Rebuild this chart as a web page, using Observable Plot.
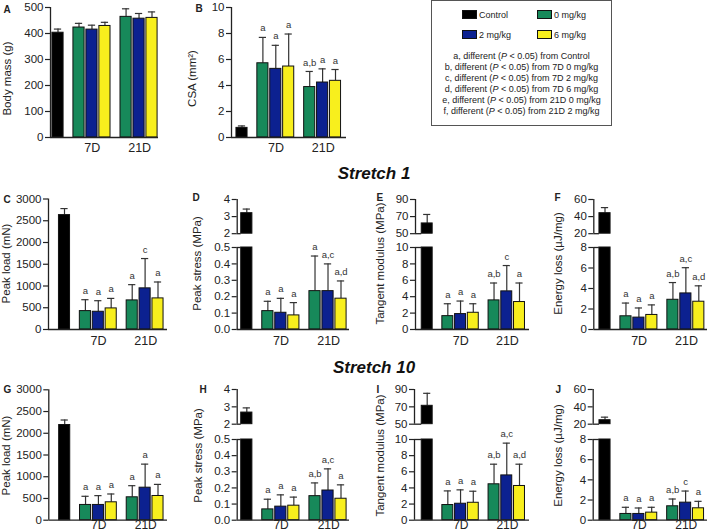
<!DOCTYPE html>
<html><head><meta charset="utf-8">
<script src="https://cdn.jsdelivr.net/npm/d3@7"></script>
<script src="https://cdn.jsdelivr.net/npm/@observablehq/plot@0.6"></script>
<style>
body{margin:0;background:#fff;font-family:"Liberation Sans",Arial,sans-serif;}
#root{position:relative;width:709px;height:532px;overflow:hidden;background:#fff;}
.title{position:absolute;font-weight:bold;font-style:italic;font-size:17px;color:#111;transform:translate(-50%,-50%);white-space:nowrap;}
#legend{position:absolute;left:431px;top:0px;width:179px;height:124px;border:1.5px solid #555;font-size:9px;color:#222;}
#legend .sw{position:absolute;width:13px;height:7px;border:1px solid #111;}
#legend .lt{position:absolute;white-space:nowrap;line-height:10px;}
#legend .notes{position:absolute;left:0;width:179px;top:50px;text-align:center;line-height:11px;}
</style></head><body><div id="root"></div>
<script>
// ---------- categories ----------
const groupLabels = ["Control", "0 mg/kg", "2 mg/kg", "6 mg/kg"];
const groupColors = ["#000000", "#17895a", "#0c2190", "#f8ef1d"];
const timeLabels = ["7D", "21D"];
const comparisonTargets = ["Control", "7D 0 mg/kg", "7D 2 mg/kg", "7D 6 mg/kg", "21D 0 mg/kg", "21D 2 mg/kg"];
const comparisonLetters = ["a", "b", "c", "d", "e", "f"];
const sectionTitles = ["Stretch 1", "Stretch 10"];
// bar order: Control, 7D 0, 7D 2, 7D 6, 21D 0, 21D 2, 21D 6
const barGroup = [0, 1, 2, 3, 1, 2, 3];
const barTime = [-1, 0, 0, 0, 1, 1, 1];

// ---------- values (mean, SD) ----------
const bodyMassMean = [403, 423, 415, 429, 464, 457, 460];
const bodyMassSd   = [14, 16, 17, 14, 31, 20, 23];
const bodyMassTicks = [0, 100, 200, 300, 400, 500];

const csaMean = [0.74, 5.71, 5.28, 5.46, 3.88, 4.23, 4.36];
const csaSd   = [0.15, 1.99, 1.81, 2.50, 1.20, 1.05, 0.87];
const csaSig  = ["", "a", "a", "a", "a,b", "a", "a"];
const csaTicks = [0, 2, 4, 6, 8, 10];

const load1Mean = [2630, 423, 408, 485, 669, 946, 715];
const load1Sd   = [150, 262, 254, 230, 362, 685, 377];
const load1Sig  = ["", "a", "a", "a", "a", "c", "a"];
const load10Mean = [2190, 351, 351, 412, 527, 748, 557];
const load10Sd   = [115, 199, 214, 191, 267, 542, 267];
const load10Sig  = ["", "a", "a", "a", "a", "a", "a"];
const loadTicks = [0, 500, 1000, 1500, 2000, 2500, 3000];

const stress1Mean = [3.2, 0.112, 0.102, 0.086, 0.234, 0.234, 0.188];
const stress1Sd   = [0.24, 0.060, 0.088, 0.078, 0.214, 0.166, 0.108];
const stress1Sig  = ["", "a", "a", "a", "a", "a,c", "a,d"];
const stress10Mean = [2.67, 0.067, 0.084, 0.090, 0.149, 0.184, 0.133];
const stress10Sd   = [0.27, 0.063, 0.073, 0.053, 0.082, 0.134, 0.086];
const stress10Sig  = ["", "a", "a", "a", "a,b", "a,c", "a"];
const stressUpperTicks = [2, 3, 4];
const stressLowerTicks = [0, 0.1, 0.2, 0.3, 0.4, 0.5];

const modulus1Mean = [62, 1.63, 1.88, 2.04, 3.55, 4.65, 3.35];
const modulus1Sd   = [10.5, 1.51, 1.59, 1.10, 2.12, 3.15, 2.32];
const modulus1Sig  = ["", "a", "a", "a", "a,b", "c", "a"];
const modulus10Mean = [71.2, 1.88, 2.04, 2.16, 4.45, 5.55, 4.24];
const modulus10Sd   = [14.4, 1.75, 1.72, 1.43, 2.49, 4.00, 2.70];
const modulus10Sig  = ["", "a", "a", "a", "a,b", "a,c", "a,d"];
const modulusUpperTicks = [50, 70, 90];
const modulusLowerTicks = [0, 2, 4, 6, 8, 10];

const energy1Mean = [44, 1.29, 1.16, 1.42, 2.90, 3.52, 2.71];
const energy1Sd   = [6.5, 1.29, 0.94, 0.98, 1.68, 2.51, 1.55];
const energy1Sig  = ["", "a", "a", "a", "a,b", "a,c", "a,d"];
const energy10Mean = [24.6, 0.62, 0.62, 0.75, 1.38, 1.74, 1.18];
const energy10Sd   = [3.5, 0.66, 0.59, 0.53, 0.72, 1.15, 0.69];
const energy10Sig  = ["", "a", "a", "a", "a,b", "c", "a"];
const energyUpperTicks = [20, 40, 60];
const energyLowerTicks = [0, 2, 4, 6, 8];

// ---------- layout ----------
const FONT = "Liberation Sans, Arial, Helvetica, sans-serif";
const root = document.getElementById("root");
const BW = 0.86, CAP = 0.28, LAST = 7.25;
const groupCenters = [2.64, 6.3];
function pos(i) { return barTime[i] < 0 ? 0 : (barTime[i] === 0 ? 1.62 : 5.25) + barGroup[i] - 1; }

const rows = {
  1: {top: 0, height: 160, full: [7, 137], labelY: 78, xLabDy: 10.5, xLabSize: 12.5},
  2: {top: 180, height: 175, full: [198.5, 329], upper: [198.5, 232.7], lower: [247, 329], labelY: 263, xLabDy: 11, xLabSize: 12.5},
  3: {top: 375, height: 157, full: [389.3, 519.7], upper: [389.3, 424], lower: [439, 519.7], labelY: 455, xLabDy: 4.5, xLabSize: 12}
};

const f1 = d3.format(".1f");
const fInt = d3.format("d");
const panels = [
  {letter: "A", label: "Body mass (g)", mean: bodyMassMean, sd: bodyMassSd, sig: null, row: 1, colLeft: 0, ax: 50, c0: 57.5, cL: 151.5, endX: 158, lx: 3, ly: 9, labX: 7,
   lower: {domain: [0, 500], ticks: bodyMassTicks, format: fInt}},
  {letter: "B", label: "CSA (mm²)", mean: csaMean, sd: csaSd, sig: csaSig, row: 1, colLeft: 172, ax: 231, c0: 241.5, cL: 335, endX: 346, lx: 195, ly: 8.5, labX: 192,
   lower: {domain: [0, 10], ticks: csaTicks, format: fInt}},
  {letter: "C", label: "Peak load (mN)", mean: load1Mean, sd: load1Sd, sig: load1Sig, row: 2, colLeft: 0, ax: 48, c0: 64, cL: 157.5, endX: 167, lx: 3, ly: 199, labX: 6,
   lower: {domain: [0, 3000], ticks: loadTicks, format: fInt}},
  {letter: "D", label: "Peak stress (MPa)", mean: stress1Mean, sd: stress1Sd, sig: stress1Sig, row: 2, colLeft: 172, ax: 236.7, c0: 246.3, cL: 340.5, endX: 349, lx: 192, ly: 197, labX: 197,
   upper: {domain: [2, 4], ticks: stressUpperTicks, format: fInt}, lower: {domain: [0, 0.5], ticks: stressLowerTicks, format: f1}},
  {letter: "E", label: "Tangent modulus (MPa)", mean: modulus1Mean, sd: modulus1Sd, sig: modulus1Sig, row: 2, colLeft: 350, ax: 415, c0: 426.7, cL: 519, endX: 529, lx: 376, ly: 197.5, labX: 380,
   upper: {domain: [50, 90], ticks: modulusUpperTicks, format: fInt}, lower: {domain: [0, 10], ticks: modulusLowerTicks, format: fInt}},
  {letter: "F", label: "Energy loss (µJ/mg)", mean: energy1Mean, sd: energy1Sd, sig: energy1Sig, row: 2, colLeft: 528, ax: 593.3, c0: 604.5, cL: 698.3, endX: 707, lx: 554, ly: 197.5, labX: 558,
   upper: {domain: [20, 60], ticks: energyUpperTicks, format: fInt}, lower: {domain: [0, 8], ticks: energyLowerTicks, format: fInt}},
  {letter: "G", label: "Peak load (mN)", mean: load10Mean, sd: load10Sd, sig: load10Sig, row: 3, colLeft: 0, ax: 48.3, c0: 64.2, cL: 157.5, endX: 167, lx: 3, ly: 389, labX: 6,
   lower: {domain: [0, 3000], ticks: loadTicks, format: fInt}},
  {letter: "H", label: "Peak stress (MPa)", mean: stress10Mean, sd: stress10Sd, sig: stress10Sig, row: 3, colLeft: 172, ax: 236.7, c0: 246.3, cL: 340.5, endX: 349, lx: 199, ly: 389, labX: 198,
   upper: {domain: [2, 4], ticks: stressUpperTicks, format: fInt}, lower: {domain: [0, 0.5], ticks: stressLowerTicks, format: f1}},
  {letter: "I", label: "Tangent modulus (MPa)", mean: modulus10Mean, sd: modulus10Sd, sig: modulus10Sig, row: 3, colLeft: 350, ax: 414, c0: 426.7, cL: 519, endX: 529, lx: 376, ly: 389, labX: 380,
   upper: {domain: [50, 90], ticks: modulusUpperTicks, format: fInt}, lower: {domain: [0, 10], ticks: modulusLowerTicks, format: fInt}},
  {letter: "J", label: "Energy loss (µJ/mg)", mean: energy10Mean, sd: energy10Sd, sig: energy10Sig, row: 3, colLeft: 528, ax: 592.7, c0: 604.5, cL: 698, endX: 707, lx: 555, ly: 389, labX: 558,
   upper: {domain: [20, 60], ticks: energyUpperTicks, format: fInt}, lower: {domain: [0, 8], ticks: energyLowerTicks, format: fInt}}
];

function place(svg, left, top) {
  svg.style.position = "absolute";
  svg.style.left = left + "px";
  svg.style.top = top + "px";
  svg.style.background = "none";
  svg.style.overflow = "visible";
  svg.style.maxWidth = "none";
  root.appendChild(svg);
}

const AX = {stroke: "#222", strokeWidth: 1.3};
const ERR = {stroke: "#333", strokeWidth: 1.2};
const styleObj = {fontFamily: FONT, fontSize: "11.5px", color: "#222", background: "none", overflow: "visible"};

function drawPanel(p) {
  const R = rows[p.row];
  const ppu = (p.cL - p.c0) / LAST;
  const xmin = (p.ax - p.c0) / ppu, xmax = (p.endX - p.c0) / ppu;
  const left = p.colLeft, right = p.endX + 4;
  const data = p.mean.map((m, i) => ({m, top: m + p.sd[i], x: pos(i), fill: groupColors[barGroup[i]], sig: p.sig ? p.sig[i] : ""}));
  const frame = p.upper ? R.lower : R.full;
  const dom = p.lower.domain;
  const inLow = data.filter(d => d.top <= dom[1]);
  const marks = [
    Plot.ruleX(inLow, {x: "x", y1: "m", y2: "top", ...ERR}),
    Plot.ruleY(inLow, {x1: d => d.x - CAP, x2: d => d.x + CAP, y: "top", ...ERR}),
    Plot.rect(data, {x1: d => d.x - BW / 2, x2: d => d.x + BW / 2, y1: dom[0], y2: d => Math.min(d.m, dom[1]), fill: "fill", stroke: "#111", strokeWidth: 1}),
    Plot.text(inLow.filter(d => d.sig), {x: "x", y: "top", text: "sig", dy: -9, fontSize: 9.5, fill: "#333"}),
    Plot.ruleX([xmin], AX),
    Plot.ruleY([dom[0]], AX),
    Plot.axisY({ticks: p.lower.ticks, tickFormat: p.lower.format, tickSize: 5, tickPadding: 2, label: null, strokeWidth: 1.2}),
    Plot.text(timeLabels, {x: (d, i) => groupCenters[i], frameAnchor: "bottom", textAnchor: "middle", lineAnchor: "middle", dy: R.xLabDy, fontSize: R.xLabSize}),
    Plot.text([p.letter], {frameAnchor: "top-left", textAnchor: "start", lineAnchor: "middle", dx: p.lx - p.ax, dy: p.ly - frame[0], fontWeight: "bold", fontSize: 10}),
    Plot.text([p.label], {frameAnchor: "left", textAnchor: "middle", lineAnchor: "middle", rotate: -90, dx: p.labX - p.ax, dy: R.labelY - (frame[0] + frame[1]) / 2, fontSize: 11.5})
  ];
  if (p.upper) marks.push(Plot.ruleY([dom[1]], {x1: xmin, x2: -BW / 2, ...AX}));
  const svg = Plot.plot({
    width: right - left, height: R.height,
    marginLeft: p.ax - left, marginRight: right - p.endX,
    marginTop: frame[0] - R.top, marginBottom: R.top + R.height - frame[1],
    x: {domain: [xmin, xmax], axis: null},
    y: {domain: dom, clamp: true, axis: null},
    style: styleObj,
    marks
  });
  place(svg, left, R.top);

  if (p.upper) {
    const ud = p.upper.domain;
    const big = data.filter(d => d.m > ud[0]);
    const utop = R.upper[0] - 10;
    const uh = R.upper[1] - R.upper[0] + 16;
    const svgU = Plot.plot({
      width: right - left, height: uh,
      marginLeft: p.ax - left, marginRight: right - p.endX,
      marginTop: 10, marginBottom: 6,
      x: {domain: [xmin, xmax], axis: null},
      y: {domain: ud, clamp: true, axis: null},
      style: styleObj,
      marks: [
        Plot.ruleX(big, {x: "x", y1: "m", y2: "top", ...ERR}),
        Plot.ruleY(big, {x1: d => d.x - CAP, x2: d => d.x + CAP, y: "top", ...ERR}),
        Plot.rect(big, {x1: d => d.x - BW / 2, x2: d => d.x + BW / 2, y1: ud[0], y2: "m", fill: "fill", stroke: "#111", strokeWidth: 1}),
        Plot.ruleX([xmin], AX),
        Plot.ruleY([ud[0]], {x1: xmin, x2: -BW / 2, ...AX}),
        Plot.axisY({ticks: p.upper.ticks, tickFormat: p.upper.format, tickSize: 5, tickPadding: 2, label: null, strokeWidth: 1.2})
      ]
    });
    place(svgU, left, utop);
  }
}
panels.forEach(drawPanel);

// ---------- titles ----------
[[374, 174], [374, 368]].forEach(([x, y], i) => {
  const t = document.createElement("div");
  t.className = "title";
  t.style.left = x + "px"; t.style.top = y + "px";
  t.textContent = sectionTitles[i];
  root.appendChild(t);
});

// ---------- legend ----------
const legend = document.createElement("div");
legend.id = "legend";
const swPos = [[30, 9], [105, 9], [30, 29], [105, 29]];
groupLabels.forEach((g, i) => {
  const s = document.createElement("div");
  s.className = "sw";
  s.style.left = swPos[i][0] + "px"; s.style.top = swPos[i][1] + "px";
  s.style.background = groupColors[i];
  legend.appendChild(s);
  const t = document.createElement("div");
  t.className = "lt";
  t.style.left = (swPos[i][0] + 17) + "px"; t.style.top = (swPos[i][1] - 0.5) + "px";
  t.textContent = g;
  legend.appendChild(t);
});
const notes = document.createElement("div");
notes.className = "notes";
comparisonLetters.forEach((l, i) => {
  const line = document.createElement("div");
  line.append(l + ", different (");
  const it = document.createElement("i"); it.textContent = "P"; line.append(it);
  line.append(" < 0.05) from " + comparisonTargets[i]);
  notes.appendChild(line);
});
legend.appendChild(notes);
root.appendChild(legend);
</script></body></html>
